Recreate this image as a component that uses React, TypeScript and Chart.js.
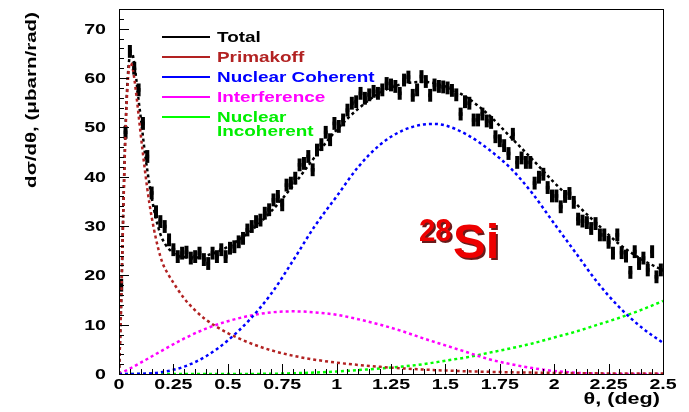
import React, { useEffect, useRef } from "react";
import { Chart, registerables } from "chart.js";
Chart.register(...registerables);

const FONT = '"Liberation Sans", Arial, Helvetica, sans-serif';

// ---- measured data (bin centers, deg) ----
const dataTheta = [
  0.01,0.03,0.05,0.07,0.09,0.11,0.13,0.15,0.17,0.19,
  0.21,0.23,0.25,0.27,0.29,0.31,0.33,0.35,0.37,0.39,
  0.41,0.43,0.45,0.47,0.49,0.51,0.53,0.55,0.57,0.59,
  0.61,0.63,0.65,0.67,0.69,0.71,0.73,0.75,0.77,0.79,
  0.81,0.83,0.85,0.87,0.89,0.91,0.93,0.95,0.97,0.99,
  1.01,1.03,1.05,1.07,1.09,1.11,1.13,1.15,1.17,1.19,
  1.21,1.23,1.25,1.27,1.29,1.31,1.33,1.35,1.37,1.39,
  1.41,1.43,1.45,1.47,1.49,1.51,1.53,1.55,1.57,1.59,
  1.61,1.63,1.65,1.67,1.69,1.71,1.73,1.75,1.77,1.79,
  1.81,1.83,1.85,1.87,1.89,1.91,1.93,1.95,1.97,1.99,
  2.01,2.03,2.05,2.07,2.09,2.11,2.13,2.15,2.17,2.19,
  2.21,2.23,2.25,2.27,2.29,2.31,2.33,2.35,2.37,2.39,
  2.41,2.43,2.45,2.47,2.49,
];
const dataVal = [
  18, 49, 65.4, 62.0, 57.6, 50.8, 44.1, 36.7, 32.9, 30.9,
  29.9, 27.2, 25.2, 23.8, 24.5, 24.7, 23.5, 23.8, 24.5, 23.2,
  22.4, 24.5, 23.8, 25.2, 23.8, 25.5, 25.8, 26.8, 27.5, 29.2,
  29.9, 30.9, 31.2, 32.6, 33.3, 35.3, 36.0, 34.3, 38.3, 38.7,
  39.7, 42.4, 42.7, 44.1, 41.4, 45.4, 46.5, 49.0, 47.5, 50.8,
  50.2, 51.5, 53.5, 54.9, 55.2, 56.9, 55.9, 56.6, 57.3, 56.9,
  57.6, 58.9, 58.6, 58.3, 56.9, 59.6, 60.2, 56.5, 57.6, 60.3,
  59.3, 56.5, 58.6, 58.3, 58.2, 58.0, 57.5, 56.6, 52.7, 55.2,
  54.9, 51.5, 51.5, 52.7, 51.3, 51.0, 48.1, 47.3, 46.3, 44.7,
  48.6, 42.9, 43.8, 42.9, 42.9, 38.7, 39.9, 40.5, 37.8, 36.1,
  36.1, 33.9, 36.0, 36.6, 34.8, 31.4, 31.0, 30.7, 29.5, 30.5,
  28.2, 28.2, 26.7, 24.5, 28.2, 24.6, 23.9, 20.6, 24.8, 22.4,
  23.5, 21.1, 24.8, 19.7, 21.1,
];
const dataErr = 1.3;

// ---- fitted curves ----
const fitTheta = [0,0.01,0.02,0.03,0.04,0.05,0.06,0.07,0.08,0.09,0.10,0.12,0.14,0.16,0.18,0.20,0.25,0.3,0.35,0.4,0.5,0.6,0.7,0.8,0.9,1.0,1.1,1.2,1.3,1.4,1.5,1.6,1.7,1.8,1.9,2.0,2.1,2.2,2.3,2.4,2.5];
const fitVal = [0,15,34,50,60,64.5,65,63,59.5,55.5,52,44.5,38.5,33.5,29.8,27.3,24.5,23.7,23.6,24,25.8,28.8,33,38.2,44,49.5,53.8,57,58.8,59.2,58.3,56,52.5,48,43.5,38.8,34.5,30.3,26.3,23.3,21];

const primTheta = [0,0.01,0.02,0.03,0.04,0.05,0.06,0.07,0.08,0.09,0.10,0.12,0.14,0.16,0.18,0.20,0.225,0.25,0.30,0.35,0.40,0.50,0.60,0.70,0.80,0.90,1.0,1.2,1.4,1.6,1.8,2.0,2.25,2.5];
const primVal = [0,14,33,49,59,63,62.5,60,56.5,52.5,48.5,41,34.5,29.5,25.5,22.5,20.3,18.5,15.3,12.9,11.0,8.3,6.3,4.8,3.7,2.9,2.3,1.45,0.9,0.55,0.35,0.22,0.12,0.08];

const cohTheta = [0,0.1,0.2,0.3,0.4,0.5,0.6,0.7,0.8,0.9,1.0,1.1,1.2,1.3,1.4,1.45,1.5,1.6,1.7,1.8,1.9,2.0,2.1,2.2,2.3,2.4,2.5];
const cohVal = [0,0.05,0.4,1.5,3.6,6.8,11.0,16.3,23,30,36,42,46.5,49.3,50.6,50.7,50.4,48.5,45.5,41.7,36.6,30.5,24.5,18.5,13.5,9.5,6.3];

const intTheta = [0,0.05,0.1,0.2,0.3,0.4,0.5,0.6,0.7,0.8,0.9,1.0,1.1,1.2,1.3,1.4,1.5,1.6,1.7,1.8,1.9,2.0,2.1,2.2,2.3,2.5];
const intVal = [0,1.1,2.3,4.8,7.2,9.2,10.7,11.8,12.5,12.7,12.5,12.0,11.1,10.0,8.7,7.2,5.8,4.4,3.0,2.0,1.2,0.6,0.25,0.05,0,0];

const incTheta = [0,0.5,0.7,0.8,0.9,1.0,1.1,1.2,1.3,1.4,1.5,1.6,1.7,1.8,1.9,2.0,2.1,2.2,2.3,2.4,2.5];
const incVal = [0,0,0.05,0.15,0.3,0.5,0.8,1.1,1.5,2.0,2.7,3.4,4.3,5.2,6.2,7.4,8.6,10.0,11.4,13.0,14.8];

const yTicks = [0, 10, 20, 30, 40, 50, 60, 70];
const xTicks = [0, 0.25, 0.5, 0.75, 1, 1.25, 1.5, 1.75, 2, 2.25, 2.5];
const xTickLabels = ["0", "0.25", "0.5", "0.75", "1", "1.25", "1.5", "1.75", "2", "2.25", "2.5"];

const legendItems = [
  { label: ["Total"], color: "#000000", text: "#000000" },
  { label: ["Primakoff"], color: "#b22222", text: "#b22222" },
  { label: ["Nuclear Coherent"], color: "#0000ff", text: "#0000ff" },
  { label: ["Interference"], color: "#ff00ff", text: "#ff00ff" },
  { label: ["Nuclear", "Incoherent"], color: "#00ff00", text: "#00ee00" },
];

function pts(xs: number[], ys: number[]) {
  return xs.map((x, i) => ({ x, y: ys[i] }));
}

function drawText(ctx: CanvasRenderingContext2D, text: string, x: number, y: number, size: number, sx: number, align: CanvasTextAlign, color: string, rot = 0) {
  ctx.save();
  ctx.translate(x, y);
  if (rot) ctx.rotate(rot);
  ctx.scale(sx, 1);
  ctx.font = `bold ${size}px ${FONT}`;
  ctx.fillStyle = color;
  ctx.textAlign = align;
  ctx.textBaseline = "alphabetic";
  ctx.fillText(text, 0, 0);
  ctx.restore();
}

const decorPlugin = {
  id: "rootDecor",
  beforeDatasetsDraw(chart: any) {
    const ctx = chart.ctx as CanvasRenderingContext2D;
    const xs = chart.scales.x, ys = chart.scales.y;
    const area = chart.chartArea;
    ctx.save();
    ctx.beginPath();
    ctx.rect(area.left, area.top, area.right - area.left, area.bottom - area.top);
    ctx.clip();
    ctx.strokeStyle = "#000";
    ctx.lineWidth = 4;
    ctx.lineCap = "butt";
    for (let i = 0; i < dataTheta.length; i++) {
      const px = xs.getPixelForValue(dataTheta[i]);
      ctx.beginPath();
      ctx.moveTo(px, ys.getPixelForValue(dataVal[i] - dataErr));
      ctx.lineTo(px, ys.getPixelForValue(dataVal[i] + dataErr));
      ctx.stroke();
    }
    ctx.restore();
  },
  afterDraw(chart: any) {
    const ctx = chart.ctx as CanvasRenderingContext2D;
    const xs = chart.scales.x, ys = chart.scales.y;
    const a = chart.chartArea;
    ctx.save();
    // frame
    ctx.strokeStyle = "#000";
    ctx.lineWidth = 1;
    ctx.strokeRect(Math.round(a.left) + 0.5, Math.round(a.top) + 0.5, Math.round(a.right - a.left), Math.round(a.bottom - a.top));
    // y ticks
    ctx.beginPath();
    for (let v = 0; v <= 74; v += 2) {
      const py = Math.round(ys.getPixelForValue(v)) + 0.5;
      const len = v % 10 === 0 ? 10 : 5;
      ctx.moveTo(a.left, py);
      ctx.lineTo(a.left + len, py);
    }
    // x ticks
    for (let k = 0; k <= 50; k++) {
      const v = k * 0.05;
      const px = Math.round(xs.getPixelForValue(v)) + 0.5;
      const len = k % 5 === 0 ? 10 : 5;
      ctx.moveTo(px, a.bottom);
      ctx.lineTo(px, a.bottom - len);
    }
    ctx.stroke();
    // tick labels
    yTicks.forEach((v) => {
      drawText(ctx, String(v), 106, ys.getPixelForValue(v) + 5, 14, 1.4, "right", "#000");
    });
    xTicks.forEach((v, i) => {
      drawText(ctx, xTickLabels[i], xs.getPixelForValue(v), 389, 14, 1.4, "center", "#000");
    });
    // axis titles
    drawText(ctx, "dσ/dθ, (μbarn/rad)", 36, 12, 15, 1.37, "right", "#000", -Math.PI / 2);
    drawText(ctx, "θ, (deg)", 660, 404, 16, 1.35, "right", "#000");
    // legend
    const lineY = [37, 57, 77, 97, 117];
    legendItems.forEach((it, i) => {
      const y = lineY[i];
      ctx.strokeStyle = it.color;
      ctx.lineWidth = 2;
      ctx.beginPath();
      ctx.moveTo(162, y);
      ctx.lineTo(210, y);
      ctx.stroke();
      it.label.forEach((t, j) => {
        drawText(ctx, t, 217, y + 5 + j * 14, 14, 1.35, "left", it.text);
      });
    });
    // 28Si label
    ctx.save();
    ctx.shadowColor = "rgba(90,0,0,0.9)";
    ctx.shadowOffsetX = 2;
    ctx.shadowOffsetY = 2;
    drawText(ctx, "28", 419, 241, 32, 0.92, "left", "#ee0000");
    drawText(ctx, "Si", 453, 258, 48, 1.02, "left", "#ee0000");
    ctx.restore();
    ctx.restore();
  },
};

export default function App() {
  const ref = useRef<HTMLCanvasElement | null>(null);
  useEffect(() => {
    if (!ref.current) return;
    const dash = [3, 3];
    const curve = (label: string, xs: number[], ys: number[], color: string) => ({
      type: "line" as const,
      label,
      data: pts(xs, ys),
      borderColor: color,
      backgroundColor: color,
      borderWidth: 2.5,
      borderDash: dash,
      pointRadius: 0,
      fill: false,
      cubicInterpolationMode: "monotone" as const,
    });
    const chart = new Chart(ref.current, {
      type: "scatter",
      data: {
        datasets: [
          {
            type: "scatter",
            label: "Data",
            data: pts(dataTheta, dataVal),
            pointStyle: "rect",
            pointRadius: 2.6,
            backgroundColor: "#000",
            borderColor: "#000",
            borderWidth: 0,
          } as any,
          curve("Primakoff", primTheta, primVal, "#b22222"),
          curve("Nuclear Coherent", cohTheta, cohVal, "#0000ff"),
          curve("Interference", intTheta, intVal, "#ff00ff"),
          curve("Nuclear Incoherent", incTheta, incVal, "#00ff00"),
          curve("Total", fitTheta, fitVal, "#000000"),
        ],
      },
      options: {
        responsive: false,
        animation: false,
        layout: { padding: { left: 119, right: 26, top: 9, bottom: 38 } },
        scales: {
          x: { type: "linear", min: 0, max: 2.5, display: false },
          y: { type: "linear", min: 0, max: 74, display: false },
        },
        plugins: { legend: { display: false }, tooltip: { enabled: false } },
      },
      plugins: [decorPlugin],
    } as any);
    return () => chart.destroy();
  }, []);
  return (
    <div style={{ position: "fixed", left: 0, top: 0, width: 689, height: 412, background: "#fff" }}>
      <canvas ref={ref} width={689} height={412} style={{ display: "block", width: 689, height: 412 }} />
    </div>
  );
}
